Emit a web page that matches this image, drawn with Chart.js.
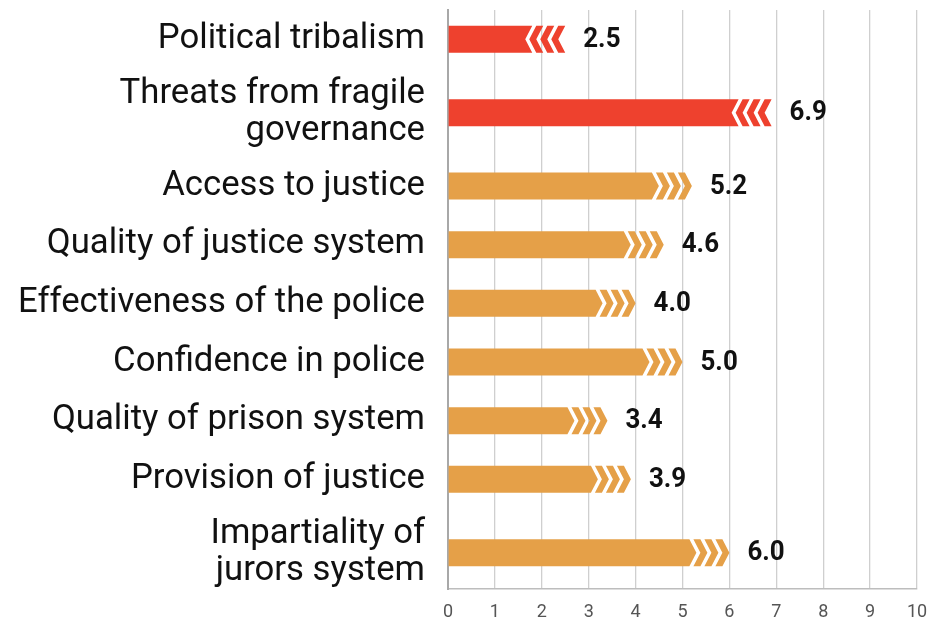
<html>
<head>
<style>
  body { margin: 0; background: #fff; }
</style>
</head>
<body>
<div style="width: 947px; height: 623px;">
    <canvas id="scores" width="947" height="623"></canvas>
</div>

<script src="https://cdn.jsdelivr.net/npm/chart.js"></script>

<script>
    var categories = [
        'Political tribalism',
        ['Threats from fragile', 'governance'],
        'Access to justice',
        'Quality of justice system',
        'Effectiveness of the police',
        'Confidence in police',
        'Quality of prison system',
        'Provision of justice',
        ['Impartiality of', 'jurors system']
    ];
    var scores = [2.5, 6.9, 5.2, 4.6, 4.0, 5.0, 3.4, 3.9, 6.0];
    // 'risk' rows point back (red), 'pillar' rows point forward (orange)
    var kinds = ['risk', 'risk', 'pillar', 'pillar', 'pillar', 'pillar', 'pillar', 'pillar', 'pillar'];
    var xTicks = [0, 1, 2, 3, 4, 5, 6, 7, 8, 9, 10];

    var RED = '#ee412e';
    var ORANGE = '#e5a048';

    // rows with a two-line label get 1.5 row units instead of 1
    var rowPos = [];
    var acc = 0;
    categories.forEach(c => {
        var h = Array.isArray(c) ? 1.5 : 1;
        rowPos.push(acc + h / 2);
        acc += h;
    });

    // draws each bar as a body plus three chevrons, and the value after it
    var chevronBars = {
        id: 'chevronBars',
        afterDatasetsDraw(chart) {
            var ctx = chart.ctx;
            var meta = chart.getDatasetMeta(0);
            var d = 7, t = 7, p = 11;
            meta.data.forEach((bar, i) => {
                var props = bar.getProps(['x', 'y', 'base', 'height'], true);
                var x = props.x, y = props.y, base = props.base;
                var top = y - props.height / 2, bot = y + props.height / 2;
                ctx.save();
                if (kinds[i] === 'risk') {
                    ctx.fillStyle = RED;
                    var bx = x - 3 * p;
                    ctx.beginPath();
                    ctx.moveTo(base, top);
                    ctx.lineTo(bx, top);
                    ctx.lineTo(bx - d, y);
                    ctx.lineTo(bx, bot);
                    ctx.lineTo(base, bot);
                    ctx.closePath();
                    ctx.fill();
                    for (var k = 0; k < 3; k++) {
                        var ex = x - k * p;
                        ctx.beginPath();
                        ctx.moveTo(ex, top);
                        ctx.lineTo(ex - d, y);
                        ctx.lineTo(ex, bot);
                        ctx.lineTo(ex - t, bot);
                        ctx.lineTo(ex - t - d, y);
                        ctx.lineTo(ex - t, top);
                        ctx.closePath();
                        ctx.fill();
                    }
                } else {
                    ctx.fillStyle = ORANGE;
                    var tip = x - 3 * p;
                    ctx.beginPath();
                    ctx.moveTo(base, top);
                    ctx.lineTo(tip - d, top);
                    ctx.lineTo(tip, y);
                    ctx.lineTo(tip - d, bot);
                    ctx.lineTo(base, bot);
                    ctx.closePath();
                    ctx.fill();
                    for (var k = 0; k < 3; k++) {
                        var tx = x - k * p;
                        ctx.beginPath();
                        ctx.moveTo(tx, y);
                        ctx.lineTo(tx - d, top);
                        ctx.lineTo(tx - d - t, top);
                        ctx.lineTo(tx - t, y);
                        ctx.lineTo(tx - d - t, bot);
                        ctx.lineTo(tx - d, bot);
                        ctx.closePath();
                        ctx.fill();
                    }
                }
                // bold value label after the tip
                ctx.fillStyle = '#111';
                ctx.font = 'bold 27px Roboto, sans-serif';
                ctx.textAlign = 'left';
                ctx.textBaseline = 'middle';
                ctx.translate(x + 18, y + 1);
                ctx.scale(0.96, 1);
                ctx.fillText(scores[i].toFixed(1), 0, 0);
                ctx.restore();
            });
        }
    };

    var scoreChart = new Chart(document.getElementById('scores'), {
        type: 'bar',
        data: {
            datasets: [{
                data: scores.map((v, i) => ({ x: v, y: rowPos[i] })),
                backgroundColor: 'rgba(0,0,0,0)',
                borderWidth: 0,
                barThickness: 27
            }]
        },
        options: {
            indexAxis: 'y',
            responsive: false,
            animation: false,
            layout: { padding: { top: 10, right: 30, left: 0, bottom: 0 } },
            plugins: {
                legend: { display: false },
                tooltip: { enabled: false }
            },
            scales: {
                x: {
                    type: 'linear',
                    min: 0,
                    max: 10,
                    afterBuildTicks: scale => {
                        scale.ticks = xTicks.map(v => ({ value: v }));
                    },
                    afterFit: scale => { scale.height = 34; },
                    grid: { color: '#cfcfcf', lineWidth: 1.3, drawTicks: false },
                    border: { color: '#bdbdbd', width: 1.5 },
                    ticks: {
                        padding: 13,
                        color: '#555',
                        font: { family: 'Roboto', size: 18 }
                    }
                },
                y: {
                    type: 'linear',
                    reverse: true,
                    offset: false,
                    min: 0,
                    max: acc - 0.13,
                    afterBuildTicks: scale => {
                        scale.ticks = rowPos.map(v => ({ value: v }));
                    },
                    afterFit: scale => {
                        scale.width = 448;
                        scale.paddingTop = 0;
                        scale.paddingBottom = 0;
                    },
                    grid: { display: false, drawTicks: false, offset: false },
                    border: { color: '#a8a8a8', width: 2 },
                    ticks: {
                        autoSkip: false,
                        padding: 23,
                        color: '#111',
                        font: { family: 'Roboto', size: 34.7, lineHeight: 1.06 },
                        callback: (value, index) => categories[index]
                    }
                }
            }
        },
        plugins: [chevronBars]
    });
</script>
</body>
</html>
